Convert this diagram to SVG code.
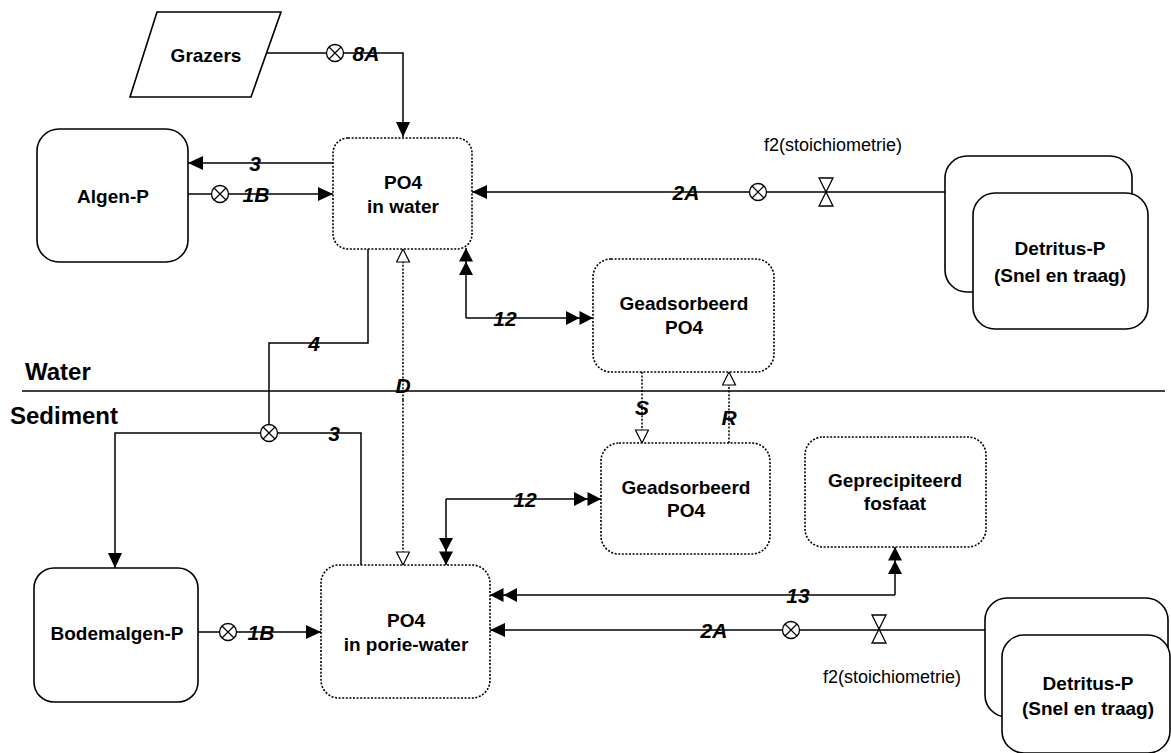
<svg xmlns="http://www.w3.org/2000/svg" width="1171" height="753" viewBox="0 0 1171 753">
<style>
  .bg{fill:#fff}
  .solid{fill:#fff;stroke:#000;stroke-width:1.6}
  .dot{fill:#fff;stroke:#000;stroke-width:1.6;stroke-dasharray:2 1.6}
  .ln{fill:none;stroke:#000;stroke-width:1.5}
  .dl{fill:none;stroke:#000;stroke-width:1.5;stroke-dasharray:2 1.6}
  .nt{font-family:"Liberation Sans",Arial,sans-serif;font-weight:bold;font-size:19px;text-anchor:middle;dominant-baseline:central;fill:#000}
  .el{font-family:"Liberation Sans",Arial,sans-serif;font-weight:bold;font-style:italic;font-size:21px;text-anchor:middle;dominant-baseline:central;fill:#000}
  .rg{font-family:"Liberation Sans",Arial,sans-serif;font-size:18px;text-anchor:middle;dominant-baseline:central;fill:#000}
  .zone{font-family:"Liberation Sans",Arial,sans-serif;font-weight:bold;font-size:24px;fill:#000}
  .sym{fill:#fff;stroke:#000;stroke-width:1.3}
</style>
<defs>
  <marker id="arr" markerUnits="userSpaceOnUse" markerWidth="16" markerHeight="14" refX="15" refY="7" orient="auto">
    <path d="M0,0 L15,7 L0,14 z" fill="#000" stroke="none"/>
  </marker>
  <marker id="arr2" markerUnits="userSpaceOnUse" markerWidth="28" markerHeight="14" refX="27" refY="7" orient="auto">
    <path d="M0,0 L13.5,7 L0,14 z M13.5,0 L27,7 L13.5,14 z" fill="#000" stroke="none"/>
  </marker>
  <marker id="hol" markerUnits="userSpaceOnUse" markerWidth="16" markerHeight="16" refX="14" refY="7" orient="auto">
    <path d="M1,0.5 L14,7 L1,13.5 z" fill="#fff" stroke="#000" stroke-width="1.2"/>
  </marker>
  <g id="cx">
    <circle cx="0" cy="0" r="8.5" class="sym"/>
    <path d="M-6,-6 L6,6 M-6,6 L6,-6" stroke="#000" stroke-width="1.2"/>
  </g>
  <g id="valve">
    <path d="M-7,-14 L7,-14 L0,0 z M0,0 L-7,14 L7,14 z" class="sym"/>
  </g>
</defs>
<rect class="bg" x="0" y="0" width="1171" height="753"/>

<g id="boundary">
  <path d="M22,391 H1165" class="ln"/>
  <text class="zone" x="25" y="380">Water</text>
  <text class="zone" x="10" y="424">Sediment</text>
</g>

<g id="connectors">
  <!-- 8A grazers -> PO4 water -->
  <path d="M266,53 H403 V137" class="ln" marker-end="url(#arr)"/>
  <use href="#cx" x="335" y="53"/>
  <text class="el" x="366" y="53">8A</text>
  <!-- 3 top -->
  <path d="M333,163 H188" class="ln" marker-end="url(#arr)"/>
  <text class="el" x="255" y="163">3</text>
  <!-- 1B top -->
  <path d="M188,194 H333" class="ln" marker-end="url(#arr)"/>
  <use href="#cx" x="220" y="194"/>
  <text class="el" x="256" y="194">1B</text>
  <!-- 2A top -->
  <path d="M945,192 H472" class="ln" marker-end="url(#arr)"/>
  <use href="#cx" x="758" y="192"/>
  <use href="#valve" x="826" y="192"/>
  <text class="el" x="686" y="192">2A</text>
  <text class="rg" x="833" y="145">f2(stoichiometrie)</text>
  <!-- 12 top -->
  <path d="M466,318 V248" class="ln" marker-end="url(#arr2)"/>
  <path d="M466,318 H593" class="ln" marker-end="url(#arr2)"/>
  <text class="el" x="505" y="318">12</text>
  <!-- D -->
  <path d="M403,400 V249" class="dl" marker-end="url(#hol)"/>
  <path d="M403,400 V565" class="dl" marker-end="url(#hol)"/>
  <text class="el" x="403" y="385">D</text>
  <!-- 4 / 3 sediment algae -->
  <path d="M368,249 V343 H269 V433" class="ln"/>
  <text class="el" x="314" y="343">4</text>
  <path d="M269,433 H115 V568" class="ln" marker-end="url(#arr)"/>
  <path d="M269,433 H361 V565" class="ln"/>
  <use href="#cx" x="269" y="433"/>
  <text class="el" x="334" y="433">3</text>
  <!-- S and R -->
  <path d="M642,372 V443" class="dl" marker-end="url(#hol)"/>
  <text class="el" x="642" y="407">S</text>
  <path d="M729,443 V372" class="dl" marker-end="url(#hol)"/>
  <text class="el" x="729" y="417">R</text>
  <!-- 12 bottom -->
  <path d="M446,499 V565" class="ln" marker-end="url(#arr2)"/>
  <path d="M446,499 H601" class="ln" marker-end="url(#arr2)"/>
  <text class="el" x="525" y="499">12</text>
  <!-- 13 -->
  <path d="M895,595 V547" class="ln" marker-end="url(#arr2)"/>
  <path d="M895,595 H490" class="ln" marker-end="url(#arr2)"/>
  <text class="el" x="798" y="595">13</text>
  <!-- 2A bottom -->
  <path d="M985,630 H490" class="ln" marker-end="url(#arr)"/>
  <use href="#cx" x="791" y="630"/>
  <use href="#valve" x="879" y="629"/>
  <text class="el" x="714" y="630">2A</text>
  <text class="rg" x="892" y="677">f2(stoichiometrie)</text>
  <!-- 1B bottom -->
  <path d="M198,632 H321" class="ln" marker-end="url(#arr)"/>
  <use href="#cx" x="228" y="632"/>
  <text class="el" x="261" y="632">1B</text>
</g>

<g id="grazers">
  <path d="M157,12 L281,12 L251,97 L130,97 z" class="solid"/>
  <text class="nt" x="206" y="55">Grazers</text>
</g>
<g id="algen-p">
  <rect x="37" y="129" width="151" height="133" rx="22" class="solid"/>
  <text class="nt" x="113" y="196">Algen-P</text>
</g>
<g id="po4-water">
  <rect x="333" y="138" width="139" height="111" rx="15" class="dot"/>
  <text class="nt" x="403" y="182">PO4</text>
  <text class="nt" x="403" y="206">in water</text>
</g>
<g id="detritus-top">
  <rect x="945" y="156" width="187" height="136" rx="22" class="solid"/>
  <rect x="973" y="193" width="175" height="136" rx="22" class="solid"/>
  <text class="nt" x="1060" y="248">Detritus-P</text>
  <text class="nt" x="1060" y="275">(Snel en traag)</text>
</g>
<g id="geadsorbeerd-top">
  <rect x="593" y="259" width="181" height="113" rx="18" class="dot"/>
  <text class="nt" x="684" y="303">Geadsorbeerd</text>
  <text class="nt" x="684" y="327">PO4</text>
</g>
<g id="geadsorbeerd-bottom">
  <rect x="601" y="443" width="169" height="111" rx="18" class="dot"/>
  <text class="nt" x="686" y="487">Geadsorbeerd</text>
  <text class="nt" x="686" y="510">PO4</text>
</g>
<g id="geprecipiteerd">
  <rect x="805" y="437" width="181" height="110" rx="18" class="dot"/>
  <text class="nt" x="895" y="480">Geprecipiteerd</text>
  <text class="nt" x="895" y="503">fosfaat</text>
</g>
<g id="bodemalgen-p">
  <rect x="34" y="568" width="164" height="134" rx="20" class="solid"/>
  <text class="nt" x="117" y="633">Bodemalgen-P</text>
</g>
<g id="po4-porie">
  <rect x="321" y="565" width="169" height="133" rx="18" class="dot"/>
  <text class="nt" x="406" y="620">PO4</text>
  <text class="nt" x="406" y="644">in porie-water</text>
</g>
<g id="detritus-bottom">
  <rect x="985" y="598" width="183" height="119" rx="22" class="solid"/>
  <rect x="1002" y="635" width="168" height="118" rx="22" class="solid"/>
  <text class="nt" x="1088" y="683">Detritus-P</text>
  <text class="nt" x="1088" y="708">(Snel en traag)</text>
</g>
</svg>
